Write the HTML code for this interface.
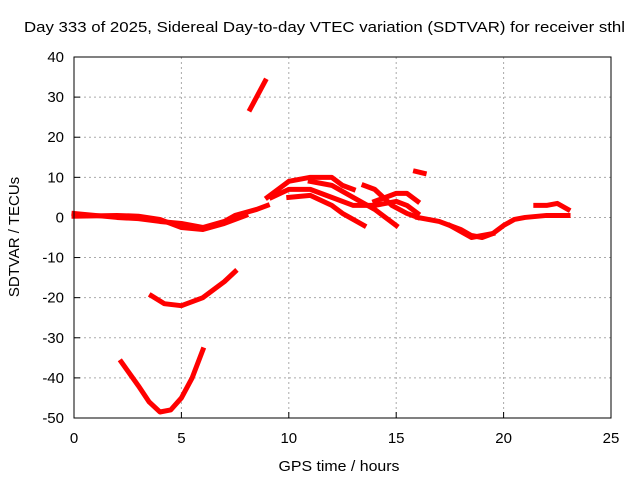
<!DOCTYPE html>
<html><head><meta charset="utf-8"><style>
body{margin:0;background:#fff;}
svg{display:block;font-family:"Liberation Sans",sans-serif;}
</style></head><body>
<svg id="chart" width="640" height="480">
<text x="24" y="32" font-size="15" textLength="601" lengthAdjust="spacingAndGlyphs">Day 333 of 2025, Sidereal Day-to-day VTEC variation (SDTVAR) for receiver sthl</text>
<text x="339" y="471" font-size="15" text-anchor="middle" textLength="121" lengthAdjust="spacingAndGlyphs">GPS time / hours</text>
<text transform="translate(19,237) rotate(-90)" font-size="15" text-anchor="middle">SDTVAR / TECUs</text>
<g id="grid"></g><g id="ticks"></g><g id="series"></g>
<rect x="74" y="57" width="537" height="361" fill="none" stroke="#000" stroke-width="1"/>
</svg>
<script>
const xTicks=[0,5,10,15,20,25];
const yTicks=[40,30,20,10,0,-10,-20,-30,-40,-50];
const baseline1=[[0,1],[1,0.5],[2,0],[3,-0.3],[4,-1],[5,-1.5],[6,-2.5],[7,-1],[7.5,0.5],[8.5,2],[9,3]];
const baseline2=[[0,0.3],[2,0.5],[3,0.3],[4,-0.5],[5,-2.5],[6,-3],[7,-1.5],[8,0.5]];
const spike=[[8.2,27],[8.9,34]];
const arcA=[[3.6,-19.5],[4.2,-21.5],[5,-22],[6,-20],[7,-16],[7.5,-13.5]];
const arcB=[[2.2,-36],[3,-42],[3.5,-46],[4,-48.5],[4.5,-48],[5,-45],[5.5,-40],[6,-33]];
const mid1=[[9,5],[10,9],[11,10],[12,10],[12.5,8],[13,7]];
const mid2=[[9.2,5],[10,7],[11,7],[12,5],[13,3],[14,3],[15,4],[15.5,3],[16,1]];
const mid3=[[10,5],[11,5.5],[12,3],[12.5,1],[13,-0.5],[13.5,-2]];
const mid4=[[11,9],[12,8],[13,5],[14,2],[15,-2]];
const mid5=[[13.5,8],[14,7],[14.8,3],[15.5,1],[16,0]];
const mid6=[[14,4],[15,6],[15.5,6],[16,4]];
const mid7=[[15.9,11.5],[16.3,11]];
const late1=[[16,0],[17,-1],[18,-3],[18.5,-4.5],[19,-5],[19.5,-4],[20,-2],[20.5,-0.5],[21,0],[22,0.5],[23,0.5]];
const late2=[[21.5,3],[22,3],[22.5,3.5],[23,2]];
const late3=[[17.5,-2],[18.5,-5],[19.5,-4]];
const allSeries=[baseline1,baseline2,spike,arcA,arcB,mid1,mid2,mid3,mid4,mid5,mid6,mid7,late1,late2,late3];
const X=v=>74+v*537/25, Y=v=>57+(40-v)*361/90;
const NS="http://www.w3.org/2000/svg";
const g=document.getElementById('grid'),t=document.getElementById('ticks'),s=document.getElementById('series');
function mk(tag,a,p){const e=document.createElementNS(NS,tag);for(const k in a)e.setAttribute(k,a[k]);p.appendChild(e);return e;}
xTicks.forEach(v=>{
 if(v>0&&v<25){const l=mk('line',{x1:X(v),x2:X(v),y1:57,y2:418,stroke:'#aaa','stroke-dasharray':'2,3'},g);
 
 }
 mk('line',{x1:X(v),x2:X(v),y1:418,y2:412,stroke:'#000'},t);
 const tx=mk('text',{x:X(v),y:443,'font-size':15,'text-anchor':'middle'},t);tx.textContent=v;
 
 
});
yTicks.forEach(v=>{
 if(v<40&&v>-50){const l=mk('line',{x1:74,x2:611,y1:Y(v),y2:Y(v),stroke:'#aaa','stroke-dasharray':'2,3'},g);
 
 }
 mk('line',{x1:74,x2:80,y1:Y(v),y2:Y(v),stroke:'#000'},t);
 const tx=mk('text',{x:64,y:Y(v)+5,'font-size':15,'text-anchor':'end'},t);tx.textContent=v;
 
 
});
allSeries.forEach(ser=>{
 const pl=mk('polyline',{points:ser.map(p=>X(p[0])+','+Y(p[1])).join(' '),fill:'none',stroke:'#f00','stroke-width':5,'stroke-linejoin':'round','stroke-linecap':'square'},s);
 
 
});
</script>
</body></html>
